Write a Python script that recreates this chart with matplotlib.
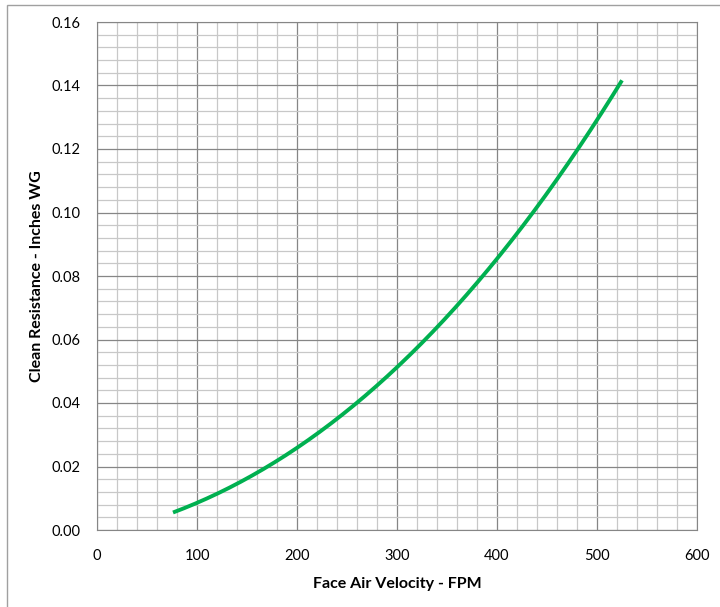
import numpy as np
import matplotlib.pyplot as plt
from matplotlib.patches import Rectangle
from matplotlib.ticker import MultipleLocator

# values
velocity = [76, 100, 150, 200, 250, 300, 350, 400, 450, 500, 525]
resistance = [0.0054, 0.0085, 0.0168, 0.0255, 0.0375, 0.0510, 0.0675, 0.0855, 0.1060, 0.1290, 0.1417]

x_ticks = [0, 100, 200, 300, 400, 500, 600]
y_ticks = [0.00, 0.02, 0.04, 0.06, 0.08, 0.10, 0.12, 0.14, 0.16]

plt.rcParams['font.family'] = ['Lato', 'DejaVu Sans']

fig = plt.figure(figsize=(7.2, 6.07), dpi=100)
W, H = 720, 607
ax = fig.add_axes([97 / W, (H - 530) / H, 600 / W, 508 / H])

# outer chart frame
fig.patches.append(Rectangle((7 / W, -0.01), 1.0, (H - 5) / H + 0.01,
                             transform=fig.transFigure, fill=False,
                             edgecolor='#a0a0a0', linewidth=1.0))

# smooth the curve through read points
vs = np.linspace(velocity[0], velocity[-1], 200)
coef = np.polyfit(velocity, resistance, 3)
ax.plot(vs, np.polyval(coef, vs), color='#00b050', linewidth=2.8, solid_capstyle='butt')

ax.set_xlim(0, 600)
ax.set_ylim(0, 0.16)
ax.set_xticks(x_ticks)
ax.set_yticks(y_ticks)
ax.set_yticklabels([f"{v:.2f}" for v in y_ticks])
ax.xaxis.set_minor_locator(MultipleLocator(20))
ax.yaxis.set_minor_locator(MultipleLocator(0.004))
ax.grid(which='major', color='#868686', linewidth=0.9)
ax.grid(which='minor', color='#c8c8c8', linewidth=0.9)
ax.set_axisbelow(True)
ax.tick_params(which='both', length=0, labelsize=10.5, colors='#000000', pad=12)
ax.tick_params(axis='x', pad=14)
for s in ax.spines.values():
    s.set_color('#868686')

ax.set_xlabel("Face Air Velocity - FPM", fontsize=11.5, fontweight='bold', labelpad=10)
ax.set_ylabel("Clean Resistance - Inches WG", fontsize=11.5, fontweight='bold', labelpad=5)

fig.savefig("out.png", dpi=100)
